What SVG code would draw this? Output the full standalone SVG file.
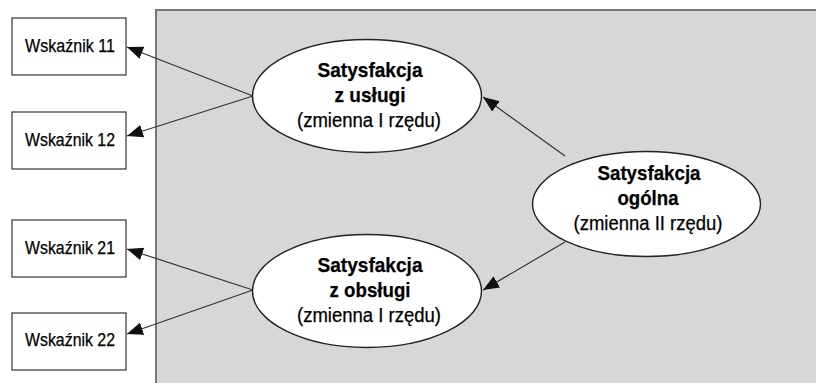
<svg xmlns="http://www.w3.org/2000/svg" width="816" height="383" viewBox="0 0 816 383">
  <style>
    .panel { fill: #d6d7d6; stroke: #777; stroke-width: 2; }
    .box { fill: #fff; stroke: #333; stroke-width: 1.2; }
    .node { fill: #fff; stroke: #222; stroke-width: 1.4; }
    .lbl { font-family: "Liberation Sans", Arial, sans-serif; fill: #000; stroke: #000; stroke-width: 0.25; text-anchor: middle; }
    .ind { font-size: 17.5px; }
    .ttl { font-size: 21px; font-weight: bold; }
    .sub { font-size: 20px; }
    .edge { stroke: #333; stroke-width: 1.2; fill: none; marker-end: url(#arrow); }
  </style>
  <defs>
    <marker id="arrow" markerWidth="17" markerHeight="13" refX="16" refY="6.5" orient="auto" markerUnits="userSpaceOnUse">
      <path d="M0,0 L16,6.5 L0,13 z" fill="#111"/>
    </marker>
  </defs>

  <!-- shaded background panel -->
  <rect class="panel" x="156" y="10" width="670" height="383"/>

  <!-- connectors -->
  <g id="connectors">
    <line class="edge" x1="253" y1="96" x2="127" y2="47"/>
    <line class="edge" x1="253" y1="96" x2="127" y2="136"/>
    <line class="edge" x1="253" y1="290" x2="127" y2="249"/>
    <line class="edge" x1="253" y1="290" x2="127" y2="334"/>
    <line class="edge" x1="565" y1="156" x2="483" y2="97"/>
    <line class="edge" x1="565" y1="242" x2="483" y2="290"/>
  </g>

  <!-- indicator boxes -->
  <g id="w11">
    <rect class="box" x="12" y="18" width="114" height="57"/>
    <text class="lbl ind" x="70" y="52" textLength="90" lengthAdjust="spacingAndGlyphs">Wskaźnik 11</text>
  </g>
  <g id="w12">
    <rect class="box" x="12" y="112" width="114" height="57"/>
    <text class="lbl ind" x="70" y="146" textLength="90" lengthAdjust="spacingAndGlyphs">Wskaźnik 12</text>
  </g>
  <g id="w21">
    <rect class="box" x="12" y="220" width="114" height="57"/>
    <text class="lbl ind" x="70" y="254" textLength="90" lengthAdjust="spacingAndGlyphs">Wskaźnik 21</text>
  </g>
  <g id="w22">
    <rect class="box" x="12" y="313" width="114" height="57"/>
    <text class="lbl ind" x="70" y="346" textLength="90" lengthAdjust="spacingAndGlyphs">Wskaźnik 22</text>
  </g>

  <!-- first-order latent variables -->
  <g id="uslugi">
    <ellipse class="node" cx="367" cy="96" rx="114.5" ry="56.5"/>
    <text class="lbl ttl" x="370" y="77" textLength="105" lengthAdjust="spacingAndGlyphs">Satysfakcja</text>
    <text class="lbl ttl" x="370" y="102" textLength="71" lengthAdjust="spacingAndGlyphs">z usługi</text>
    <text class="lbl sub" x="369" y="127" textLength="144" lengthAdjust="spacingAndGlyphs">(zmienna I rzędu)</text>
  </g>
  <g id="obslugi">
    <ellipse class="node" cx="367" cy="291" rx="114.5" ry="56.5"/>
    <text class="lbl ttl" x="370" y="272" textLength="105" lengthAdjust="spacingAndGlyphs">Satysfakcja</text>
    <text class="lbl ttl" x="370" y="297" textLength="81" lengthAdjust="spacingAndGlyphs">z obsługi</text>
    <text class="lbl sub" x="369" y="322" textLength="144" lengthAdjust="spacingAndGlyphs">(zmienna I rzędu)</text>
  </g>

  <!-- second-order latent variable -->
  <g id="ogolna">
    <ellipse class="node" cx="646.5" cy="204" rx="114" ry="52.5"/>
    <text class="lbl ttl" x="649" y="180" textLength="103" lengthAdjust="spacingAndGlyphs">Satysfakcja</text>
    <text class="lbl ttl" x="648" y="205" textLength="61" lengthAdjust="spacingAndGlyphs">ogólna</text>
    <text class="lbl sub" x="648" y="230" textLength="149" lengthAdjust="spacingAndGlyphs">(zmienna II rzędu)</text>
  </g>
</svg>
